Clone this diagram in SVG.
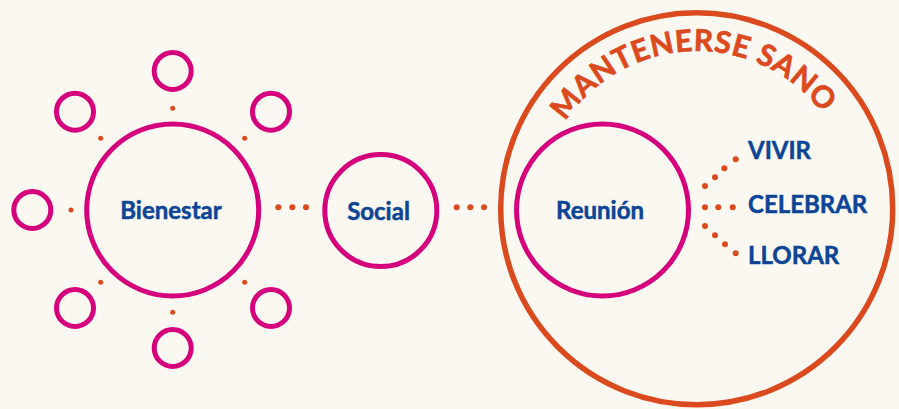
<svg xmlns="http://www.w3.org/2000/svg" width="899" height="409" viewBox="0 0 899 409">
  <style>
    .pink { fill: none; stroke: #d5007b; stroke-width: 5; }
    .orange { fill: none; stroke: #db4a1e; stroke-width: 5.5; }
    .dot { fill: #db4a1e; }
    .lbl { font-family: Lato, "Liberation Sans", sans-serif; font-weight: 700; font-size: 24px; fill: #0c4595; stroke: #0c4595; stroke-width: 0.5px; }
    .mid { text-anchor: middle; }
    .arc { font-family: Lato, "Liberation Sans", sans-serif; font-weight: 700; font-size: 30px; fill: #db4a1e; stroke: #db4a1e; stroke-width: 0.7px; letter-spacing: 0.6px; }
  </style>
  <defs>
    <path id="arcPath" d="M 539 209 A 158 158 0 0 1 855 209"/>
  </defs>
  <rect width="899" height="409" fill="#fbf8f1"/>

  <g id="connectors">
    <!-- satellites to Bienestar -->
    <circle class="dot" cx="172.7" cy="108.3" r="2.5"/>
    <circle class="dot" cx="100.7" cy="138.3" r="2.5"/>
    <circle class="dot" cx="244.7" cy="138.3" r="2.5"/>
    <circle class="dot" cx="71" cy="210" r="2.5"/>
    <circle class="dot" cx="100.7" cy="282.3" r="2.5"/>
    <circle class="dot" cx="244.7" cy="282.3" r="2.5"/>
    <circle class="dot" cx="172.7" cy="312.3" r="2.5"/>
    <!-- Bienestar to Social -->
    <circle class="dot" cx="278.3" cy="207.3" r="3"/>
    <circle class="dot" cx="292.3" cy="207.3" r="3"/>
    <circle class="dot" cx="306" cy="207.3" r="3"/>
    <!-- Social to Mantenerse -->
    <circle class="dot" cx="456.7" cy="207.3" r="3"/>
    <circle class="dot" cx="470.3" cy="207.3" r="3"/>
    <circle class="dot" cx="484" cy="207.3" r="3"/>
    <!-- Reunion to VIVIR -->
    <circle class="dot" cx="705" cy="186" r="3"/>
    <circle class="dot" cx="715" cy="177.3" r="3"/>
    <circle class="dot" cx="724.3" cy="168.3" r="3"/>
    <circle class="dot" cx="735.7" cy="159.3" r="3"/>
    <!-- Reunion to CELEBRAR -->
    <circle class="dot" cx="705" cy="207.3" r="3"/>
    <circle class="dot" cx="718.3" cy="207.3" r="3"/>
    <circle class="dot" cx="732.7" cy="207.3" r="3"/>
    <!-- Reunion to LLORAR -->
    <circle class="dot" cx="705" cy="226" r="3"/>
    <circle class="dot" cx="715" cy="235.3" r="3"/>
    <circle class="dot" cx="725" cy="244.3" r="3"/>
    <circle class="dot" cx="735.7" cy="253.3" r="3"/>
  </g>

  <g id="sat-top"><circle class="pink" cx="172.7" cy="71" r="18.5"/></g>
  <g id="sat-top-left"><circle class="pink" cx="75" cy="111.7" r="18.5"/></g>
  <g id="sat-top-right"><circle class="pink" cx="271" cy="111.7" r="18.5"/></g>
  <g id="sat-left"><circle class="pink" cx="32.3" cy="210" r="18.5"/></g>
  <g id="sat-bottom-left"><circle class="pink" cx="75" cy="308" r="18.5"/></g>
  <g id="sat-bottom-right"><circle class="pink" cx="271" cy="308" r="18.5"/></g>
  <g id="sat-bottom"><circle class="pink" cx="172.7" cy="348" r="18.5"/></g>

  <g id="bienestar">
    <circle class="pink" cx="172.7" cy="210" r="86"/>
    <text class="lbl mid" x="171" y="218.5">Bienestar</text>
  </g>

  <g id="social">
    <circle class="pink" cx="380.8" cy="210.5" r="56"/>
    <text class="lbl mid" x="378.5" y="220">Social</text>
  </g>

  <g id="mantenerse-sano">
    <circle class="orange" cx="696.7" cy="208.7" r="196"/>
    <text class="arc"><textPath href="#arcPath" startOffset="49%" text-anchor="middle">MANTENERSE SANO</textPath></text>
  </g>

  <g id="reunion">
    <circle class="pink" cx="602.5" cy="210" r="86"/>
    <text class="lbl mid" x="600" y="219">Reunión</text>
  </g>

  <g id="vivir"><text class="lbl" x="748" y="158.5">VIVIR</text></g>
  <g id="celebrar"><text class="lbl" x="748" y="212.5">CELEBRAR</text></g>
  <g id="llorar"><text class="lbl" x="748" y="263.5">LLORAR</text></g>
</svg>
